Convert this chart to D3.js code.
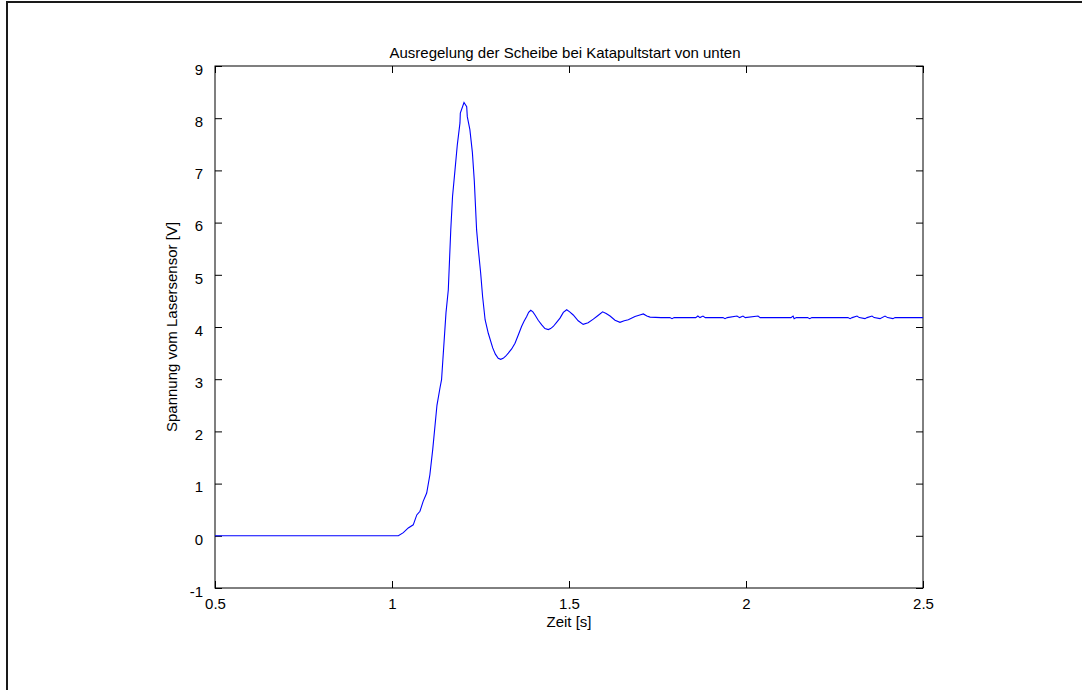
<!DOCTYPE html>
<html>
<head>
<meta charset="utf-8">
<script src="https://cdn.jsdelivr.net/npm/d3@7"></script>
<style>
  body { margin: 0; background: #fff; }
  text { font-family: "Liberation Sans", Arial, sans-serif; fill: #000; }
</style>
</head>
<body>
<div id="chart"></div>
<script>
// measured signal, time in s
const zeit = [
  0.5, 1.018, 1.032, 1.046, 1.060, 1.070, 1.079, 1.088, 1.098, 1.107, 1.115,
  1.127, 1.136, 1.140, 1.1525, 1.159, 1.166, 1.171, 1.178, 1.1845, 1.192, 1.193,
  1.2034, 1.211, 1.2127, 1.220, 1.227, 1.2325, 1.239, 1.244, 1.2505, 1.256, 1.263,
  1.272, 1.2845, 1.292, 1.300, 1.307, 1.314, 1.321, 1.3285, 1.338, 1.3475, 1.357,
  1.366, 1.373, 1.3805, 1.386, 1.392, 1.398, 1.404, 1.413, 1.423, 1.432, 1.4415,
  1.448, 1.4555, 1.465, 1.4746, 1.484, 1.4935, 1.502, 1.512, 1.526, 1.540, 1.554,
  1.5687, 1.582, 1.595, 1.605, 1.616, 1.630, 1.644, 1.656, 1.6675, 1.6864, 1.700,
  1.710, 1.720, 1.729,
  1.76, 1.785, 1.791, 1.797, 1.858, 1.864, 1.870, 1.8785, 1.885, 1.935, 1.9407,
  1.947, 1.9746, 1.982, 1.9915, 1.998, 2.034, 2.040, 2.127, 2.133, 2.136, 2.142,
  2.174, 2.180, 2.186, 2.288, 2.294, 2.300, 2.3136, 2.320, 2.336, 2.342, 2.356,
  2.362, 2.3785, 2.3927, 2.400, 2.415, 2.421, 2.5
]
// voltage from the laser sensor in V
const spannung = [
  0, 0, 0.06, 0.15, 0.21, 0.40, 0.47, 0.66, 0.82, 1.17, 1.65,
  2.5, 2.85, 2.99, 4.27, 4.71, 5.86, 6.50, 7.01, 7.49, 7.91, 8.10,
  8.30, 8.22, 8.03, 7.78, 7.35, 6.80, 5.86, 5.48, 5.03, 4.58, 4.14,
  3.88, 3.60, 3.48, 3.40, 3.38, 3.40, 3.44, 3.50, 3.58, 3.69, 3.85,
  4.01, 4.11, 4.20, 4.28, 4.32, 4.29, 4.23, 4.13, 4.04, 3.97, 3.95,
  3.97, 4.01, 4.09, 4.17, 4.28, 4.33, 4.29, 4.23, 4.12, 4.05, 4.08,
  4.15, 4.22, 4.29, 4.26, 4.21, 4.13, 4.09, 4.12, 4.14, 4.20, 4.23,
  4.25, 4.21, 4.19,
  4.18, 4.18, 4.16, 4.18, 4.18, 4.21, 4.18, 4.21, 4.18, 4.18, 4.16,
  4.18, 4.21, 4.18, 4.21, 4.18, 4.21, 4.18, 4.18, 4.21, 4.16, 4.18,
  4.18, 4.16, 4.18, 4.18, 4.16, 4.18, 4.21, 4.18, 4.16, 4.18, 4.21,
  4.18, 4.16, 4.21, 4.18, 4.16, 4.18, 4.18
]
const xTicks = [0.5, 1, 1.5, 2, 2.5]
const yTicks = [-1, 0, 1, 2, 3, 4, 5, 6, 7, 8, 9]

const width = 1082
const height = 690
const margin = {left: 215, right: 1082 - 923, top: 66, bottom: 690 - 588}
const tickLen = 7
const fontSize = '15px'

const $svg = d3.select('#chart')
  .append('svg')
  .attr('width', width)
  .attr('height', height)

// figure frame (only top and left visible)
$svg.append('path')
  .attr('d', `M7 ${height} V2 H${width}`)
  .attr('fill', 'none')
  .attr('stroke', '#1a1a1a')
  .attr('stroke-width', 2)

const x = d3.scaleLinear().domain([0.5, 2.5]).range([margin.left, width - margin.right])
const y = d3.scaleLinear().domain([-1, 9]).range([height - margin.bottom, margin.top])

const $g = $svg.append('g')

// box
$g.append('rect')
  .attr('x', x.range()[0]).attr('y', y.range()[1])
  .attr('width', x.range()[1] - x.range()[0])
  .attr('height', y.range()[0] - y.range()[1])
  .attr('fill', 'none').attr('stroke', '#000').attr('stroke-width', 1)

// inward ticks on all four sides
const addAxis = (axis, transform) => {
  const $a = $g.append('g').attr('transform', transform).call(axis)
  $a.select('.domain').remove()
  $a.selectAll('text').style('font-size', fontSize).style('font-family', '"Liberation Sans", Arial, sans-serif')
  return $a
}

const fmt = d => String(d)
addAxis(d3.axisBottom(x).tickValues(xTicks).tickFormat(fmt).tickSizeInner(-tickLen).tickPadding(tickLen + 3),
  `translate(0,${y(-1)})`)
addAxis(d3.axisTop(x).tickValues(xTicks).tickFormat('').tickSizeInner(-tickLen),
  `translate(0,${y(9)})`)
addAxis(d3.axisLeft(y).tickValues(yTicks).tickFormat(fmt).tickSizeInner(-tickLen).tickPadding(tickLen + 5),
  `translate(${x(0.5)},0)`)
  .selectAll('text').attr('dy', '0.55em')
addAxis(d3.axisRight(y).tickValues(yTicks).tickFormat('').tickSizeInner(-tickLen),
  `translate(${x(2.5)},0)`)

$g.selectAll('.tick line').attr('stroke', '#000')

// signal
const points = zeit.map((t, i) => [t, spannung[i]])
$g.append('path')
  .datum(points)
  .attr('fill', 'none')
  .attr('stroke', '#0000ff')
  .attr('stroke-width', 1.1)
  .attr('d', d3.line().x(d => x(d[0])).y(d => y(d[1])))

// labels
const cx = (x.range()[0] + x.range()[1]) / 2
$svg.append('text')
  .attr('x', cx - 4).attr('y', 58)
  .attr('text-anchor', 'middle').style('font-size', fontSize)
  .text('Ausregelung der Scheibe bei Katapultstart von unten')

$svg.append('text')
  .attr('x', cx).attr('y', 627)
  .attr('text-anchor', 'middle').style('font-size', fontSize)
  .text('Zeit [s]')

$svg.append('text')
  .attr('transform', `translate(177,${(y.range()[0] + y.range()[1]) / 2}) rotate(-90)`)
  .attr('text-anchor', 'middle').style('font-size', fontSize)
  .text('Spannung vom Lasersensor [V]')
</script>
</body>
</html>
